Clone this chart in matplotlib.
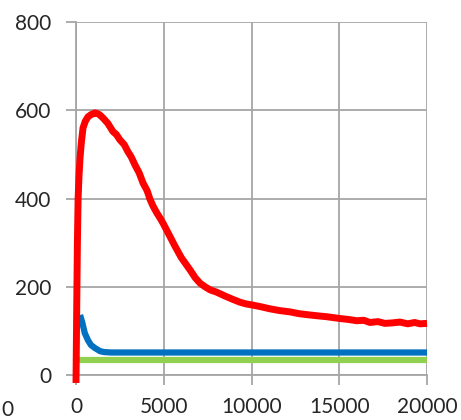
import matplotlib
matplotlib.use("Agg")
import matplotlib.pyplot as plt

plt.rcParams['font.family'] = ['Lato', 'DejaVu Sans']

red_x = [0, 40, 80, 120, 170, 230, 300, 400, 530, 680, 850, 1080, 1250, 1370, 1550, 1820,
         2100, 2300, 2500, 2750, 2960, 3150, 3360, 3600, 3820, 4050, 4220, 4400, 4610, 4800,
         4960, 5300, 5640, 6000, 6250, 6500, 6800, 7070, 7350, 7640, 8000, 8490, 8900, 9340,
         9700, 10000, 10500, 11050, 11600, 12200, 12700, 13330, 13800, 14300, 15040, 15500,
         16000, 16400, 16750, 17200, 17600, 18000, 18460, 18900, 19300, 19600, 20000]
red_y = [-18, 150, 300, 400, 450, 492, 525, 560, 575, 585, 590, 594, 592, 589, 582, 570,
         552, 545, 533, 522, 506, 494, 476, 458, 435, 418, 398, 382, 367, 355,
         344, 318, 292, 266, 252, 238, 220, 208, 200, 193, 188, 179, 172, 165,
         161, 159, 155, 150, 146, 143, 139, 136, 134, 132, 128, 126,
         123, 124, 119, 121, 117, 118, 120, 116, 119, 116, 117]

blue_x = [230, 350, 500, 680, 850, 1080, 1250, 1370, 1600, 2000, 3000, 20000]
blue_y = [136, 120, 95, 79, 68, 61, 57, 54, 52, 51, 51, 51]

green_x = [170, 20000]
green_y = [34, 34]

xticks = [0, 5000, 10000, 15000, 20000]
yticks = [0, 200, 400, 600, 800]

fig = plt.figure(figsize=(4.61, 4.20), dpi=100)
ax = fig.add_axes([76/461, 1 - 375/420, (427-76)/461, (375-22)/420])

grid_c = '#A6A6A6'
ax.set_xlim(0, 20000)
ax.set_ylim(0, 800)
ax.set_xticks(xticks)
ax.set_yticks(yticks)
ax.set_xticklabels([str(v) for v in xticks])
ax.set_yticklabels([str(v) for v in yticks])
ax.grid(True, color=grid_c, linewidth=1.3)
ax.set_axisbelow(True)
for s in ['top', 'right']:
    ax.spines[s].set_visible(False)
for s in ['left', 'bottom']:
    ax.spines[s].set_color(grid_c)
    ax.spines[s].set_linewidth(1.3)
ax.tick_params(axis='both', colors=grid_c, length=7, width=1.3, labelsize=15,
               labelcolor='#262626')
ax.tick_params(axis='y', pad=11)
ax.tick_params(axis='x', pad=9)

ax.plot(green_x, green_y, color='#92D050', linewidth=4.5, solid_capstyle='butt', zorder=3)
ax.plot(blue_x, blue_y, color='#0070C0', linewidth=4.5, solid_capstyle='butt', zorder=4)
ax.plot(red_x, red_y, color='#FF0000', linewidth=5, solid_capstyle='butt',
        solid_joinstyle='round', zorder=5, clip_on=False)

fig.text(1/461, 1 - 410/420, '0', ha='left', va='center', fontsize=15, color='#262626')

fig.savefig('out.png', dpi=100)
